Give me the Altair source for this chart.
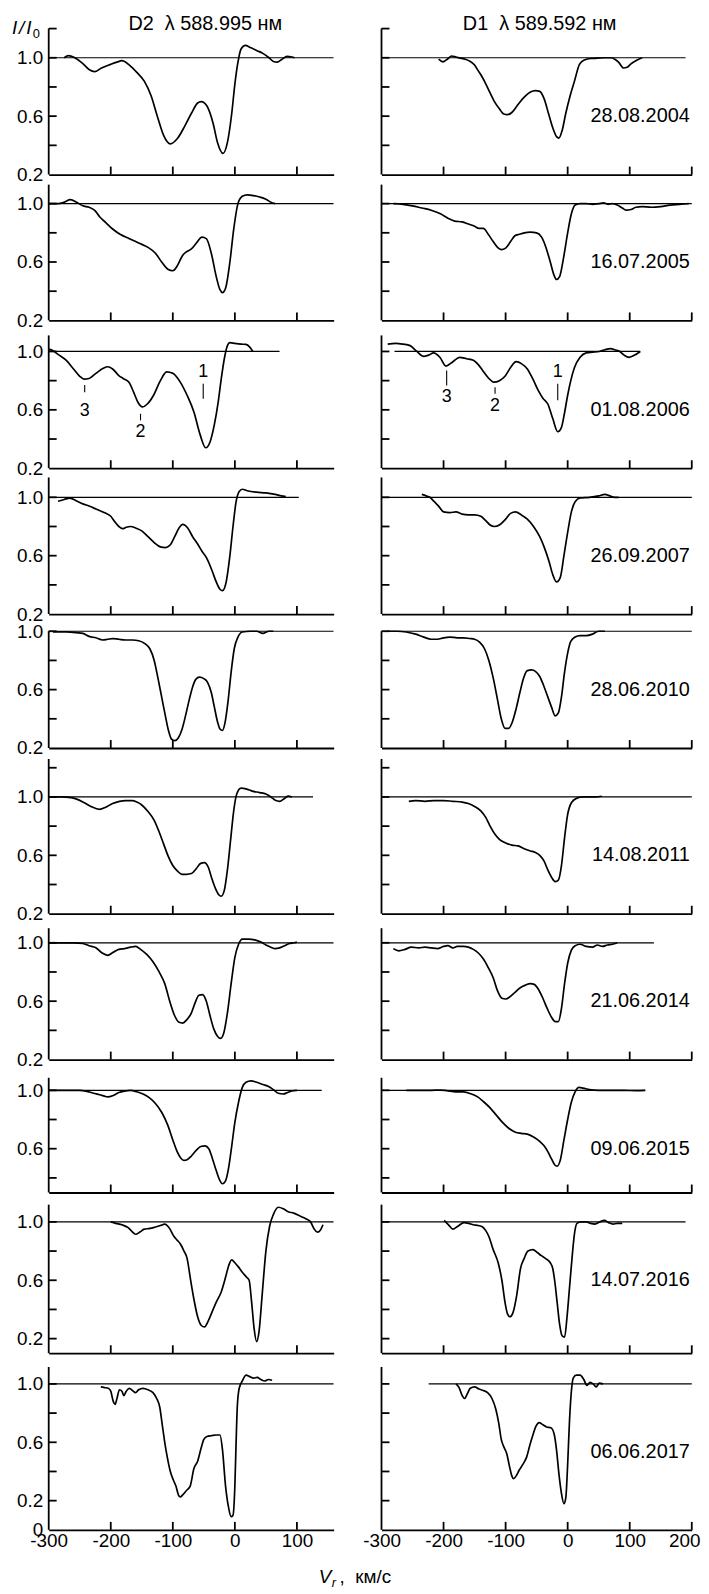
import altair as alt
import pandas as pd

FONT = "Liberation Sans"
DATES = ["28.08.2004", "16.07.2005", "01.08.2006", "26.09.2007", "28.06.2010",
         "14.08.2011", "21.06.2014", "09.06.2015", "14.07.2016", "06.06.2017"]

# ---------------- D2 profiles (left column) ----------------
D2_2004_V = [-275, -268, -258, -245, -235, -226, -215, -200, -190, -182, -170, -158, -146, -135, -125, -115, -104, -92, -81, -70, -60, -54, -45, -35, -28, -19, -12, -5, 0, 5, 10, 17, 25, 35, 45, 55, 62, 68, 76, 84, 92, 96]
D2_2004_I = [1.0, 1.015, 1.0, 0.96, 0.92, 0.905, 0.93, 0.955, 0.97, 0.98, 0.95, 0.9, 0.84, 0.74, 0.6, 0.47, 0.41, 0.45, 0.53, 0.62, 0.69, 0.70, 0.67, 0.55, 0.42, 0.345, 0.42, 0.62, 0.82, 0.97, 1.06, 1.085, 1.07, 1.05, 1.03, 1.0, 0.975, 0.97, 0.99, 1.01, 1.005, 1.0]

D2_2005_V = [-300, -285, -275, -265, -255, -245, -235, -225, -218, -208, -197, -185, -170, -155, -140, -128, -118, -108, -100, -92, -85, -78, -70, -62, -53, -46, -38, -30, -24, -20, -15, -8, -2, 5, 12, 20, 30, 40, 50, 58, 65]
D2_2005_I = [1.0, 1.0, 1.01, 1.027, 1.01, 0.985, 0.975, 0.95, 0.91, 0.87, 0.826, 0.79, 0.76, 0.73, 0.70, 0.66, 0.6, 0.55, 0.54, 0.58, 0.64, 0.67, 0.69, 0.73, 0.77, 0.76, 0.66, 0.5, 0.41, 0.39, 0.42, 0.6, 0.82, 1.0, 1.05, 1.06, 1.055, 1.045, 1.03, 1.01, 1.0]

D2_2006_V = [-300, -293, -285, -272, -260, -250, -243, -235, -224, -212, -205, -197, -187, -180, -171, -163, -156, -149, -141, -131, -120, -110, -100, -88, -77, -66, -56, -47, -40, -33, -27, -22, -17, -12, -8, 0, 10, 18, 24, 29]
D2_2006_I = [1.016, 1.005, 0.98, 0.94, 0.88, 0.83, 0.81, 0.815, 0.85, 0.885, 0.895, 0.88, 0.835, 0.815, 0.79, 0.72, 0.65, 0.62, 0.64, 0.70, 0.80, 0.86, 0.85, 0.79, 0.70, 0.585, 0.43, 0.34, 0.38, 0.5, 0.65, 0.81, 0.95, 1.04, 1.06, 1.055, 1.05, 1.048, 1.03, 1.0]

D2_2007_V = [-285, -275, -266, -255, -245, -235, -224, -208, -200, -194, -187, -181, -175, -168, -160, -150, -140, -130, -120, -112, -105, -97, -90, -84, -76, -68, -60, -53, -45, -37, -30, -24, -20, -14, -8, -3, 2, 7, 12, 20, 35, 50, 65, 75, 82]
D2_2007_I = [0.973, 0.985, 0.995, 0.975, 0.955, 0.94, 0.92, 0.89, 0.87, 0.835, 0.80, 0.785, 0.795, 0.80, 0.79, 0.77, 0.73, 0.69, 0.66, 0.655, 0.67, 0.73, 0.79, 0.815, 0.79, 0.73, 0.68, 0.63, 0.58, 0.5, 0.42, 0.37, 0.36, 0.42, 0.6, 0.8, 0.97, 1.04, 1.055, 1.045, 1.035, 1.03, 1.02, 1.01, 1.005]

D2_2010_V = [-293, -272, -255, -245, -235, -224, -213, -205, -197, -187, -176, -165, -155, -145, -137, -130, -124, -118, -112, -107, -102, -97, -91, -85, -79, -73, -68, -63, -57, -50, -44, -38, -33, -28, -24, -20, -16, -11, -6, -1, 5, 12, 25, 35, 45, 55, 62]
D2_2010_I = [0.995, 0.995, 0.99, 0.985, 0.965, 0.955, 0.94, 0.945, 0.95, 0.945, 0.94, 0.94, 0.935, 0.915, 0.88, 0.8, 0.68, 0.55, 0.42, 0.32, 0.26, 0.25, 0.27, 0.33, 0.43, 0.54, 0.62, 0.67, 0.685, 0.675, 0.65, 0.58, 0.48, 0.38, 0.33, 0.32, 0.37, 0.52, 0.72, 0.88, 0.96, 0.995, 1.0, 1.0, 0.985, 1.0, 1.0]

D2_2011_V = [-300, -280, -264, -255, -245, -232, -218, -208, -197, -186, -176, -165, -158, -150, -140, -130, -122, -115, -108, -100, -92, -85, -78, -70, -62, -55, -49, -43, -37, -31, -26, -22, -17, -12, -7, -2, 3, 10, 18, 28, 40, 50, 58, 66, 72, 80, 86, 92]
D2_2011_I = [1.0, 1.0, 0.995, 0.985, 0.966, 0.935, 0.915, 0.93, 0.955, 0.97, 0.975, 0.975, 0.965, 0.945, 0.9, 0.84, 0.76, 0.68, 0.6, 0.53, 0.49, 0.47, 0.47, 0.475, 0.51, 0.545, 0.55, 0.52, 0.44, 0.37, 0.33, 0.32, 0.36, 0.5, 0.7, 0.9, 1.02, 1.06, 1.055, 1.04, 1.03, 1.02, 1.0, 0.975, 0.97, 0.99, 1.005, 1.0]

D2_2014_V = [-300, -260, -245, -235, -224, -214, -205, -196, -187, -178, -168, -160, -152, -142, -132, -122, -113, -105, -97, -90, -84, -78, -70, -64, -58, -52, -46, -40, -34, -28, -23, -18, -12, -6, 0, 6, 12, 22, 32, 42, 50, 58, 65, 72, 80, 88, 95, 100]
D2_2014_I = [1.0, 1.0, 0.995, 0.98, 0.966, 0.93, 0.914, 0.935, 0.955, 0.96, 0.97, 0.975, 0.955, 0.92, 0.87, 0.8, 0.72, 0.6, 0.5, 0.455, 0.45, 0.47, 0.52, 0.59, 0.64, 0.645, 0.6, 0.5, 0.41, 0.36, 0.345, 0.38, 0.52, 0.72, 0.9, 0.99, 1.025, 1.025, 1.02, 1.005, 0.985, 0.97, 0.96, 0.965, 0.98, 0.995, 1.0, 1.005]

D2_2015_V = [-300, -250, -240, -228, -218, -210, -205, -196, -187, -178, -168, -158, -148, -138, -128, -118, -108, -100, -93, -87, -82, -77, -70, -62, -55, -48, -42, -36, -30, -25, -20, -15, -10, -5, 0, 6, 12, 18, 26, 35, 45, 55, 62, 70, 78, 85, 92, 100]
D2_2015_I = [1.0, 1.0, 0.995, 0.98, 0.97, 0.96, 0.955, 0.965, 0.985, 0.995, 1.0, 0.99, 0.975, 0.95, 0.91, 0.85, 0.76, 0.66, 0.58, 0.535, 0.52, 0.525, 0.55, 0.59, 0.615, 0.62, 0.6, 0.53, 0.45, 0.39, 0.36, 0.38, 0.47, 0.62, 0.78, 0.92, 1.02, 1.055, 1.065, 1.055, 1.04, 1.025, 1.005, 0.98, 0.975, 0.985, 0.995, 1.0]

D2_2016_V = [-200, -192, -182, -172, -166, -160, -153, -146, -137, -128, -120, -113, -106, -98, -93, -88, -82, -77, -72, -66, -60, -54, -49, -43, -37, -30, -22, -15, -10, -5, 0, 6, 12, 18, 23, 27, 31, 35, 39, 44, 50, 56, 62, 70, 78, 86, 95, 105, 115, 122, 128, 133, 138, 142]
D2_2016_I = [1.0, 0.99, 0.98, 0.96, 0.935, 0.915, 0.93, 0.95, 0.955, 0.965, 0.975, 0.985, 0.96, 0.9, 0.875, 0.85, 0.8, 0.75, 0.62, 0.47, 0.35, 0.29, 0.28, 0.32, 0.38, 0.45, 0.52, 0.62, 0.7, 0.74, 0.72, 0.69, 0.655, 0.625, 0.6, 0.45, 0.27, 0.18, 0.25, 0.5, 0.8, 0.97, 1.05, 1.1, 1.09, 1.07, 1.06, 1.04, 1.02, 1.0, 0.95, 0.93, 0.945, 0.98]

D2_2017_V = [-216, -210, -204, -200, -196, -193, -190, -186, -182, -179, -175, -170, -165, -160, -155, -148, -140, -132, -126, -121, -117, -113, -109, -104, -99, -95, -91, -88, -84, -78, -72, -66, -60, -55, -50, -45, -38, -30, -24, -20, -15, -10, -6, -3, 0, 2, 4, 7, 12, 18, 24, 30, 36, 42, 48, 54, 60]
D2_2017_I = [0.98, 0.975, 0.97, 0.95, 0.88, 0.86, 0.9, 0.96, 0.95, 0.92, 0.95, 0.97, 0.955, 0.94, 0.96, 0.97, 0.96, 0.94, 0.9, 0.84, 0.72, 0.6, 0.5, 0.4, 0.34, 0.3, 0.24, 0.225, 0.24, 0.27, 0.3, 0.42, 0.47, 0.55, 0.62, 0.64, 0.645, 0.65, 0.65, 0.55, 0.3, 0.15, 0.09, 0.1, 0.3, 0.6, 0.85, 0.97, 1.02, 1.06, 1.05, 1.04, 1.045, 1.03, 1.02, 1.03, 1.025]

# ---------------- D1 profiles (right column) ----------------
D1_2004_V = [-208, -201, -194, -187, -180, -173, -165, -157, -150, -144, -138, -133, -125, -118, -110, -103, -97, -90, -80, -70, -60, -52, -45, -38, -31, -24, -18, -14, -9, -3, 4, 11, 19, 27, 37, 48, 60, 69, 76, 82, 90, 96, 101, 112, 120]
D1_2004_I = [0.99, 0.972, 0.99, 1.012, 1.005, 0.998, 0.99, 0.975, 0.95, 0.91, 0.87, 0.83, 0.76, 0.7, 0.65, 0.615, 0.61, 0.625, 0.68, 0.73, 0.765, 0.775, 0.77, 0.72, 0.62, 0.52, 0.46, 0.45, 0.5, 0.62, 0.74, 0.84, 0.955, 0.985, 0.995, 0.997, 1.0, 1.0, 0.99, 0.97, 0.93, 0.935, 0.955, 0.985, 1.0]

D1_2005_V = [-281, -265, -250, -235, -220, -205, -193, -182, -170, -160, -150, -143, -136, -128, -120, -113, -107, -100, -92, -85, -78, -70, -60, -50, -42, -35, -28, -22, -18, -13, -7, 0, 6, 12, 20, 30, 40, 50, 58, 65, 72, 80, 88, 95, 102, 110, 120, 135, 150, 165, 180, 195]
D1_2005_I = [1.0, 0.995, 0.985, 0.97, 0.955, 0.93, 0.9, 0.88, 0.875, 0.86, 0.845, 0.83, 0.83, 0.79, 0.74, 0.7, 0.685, 0.695, 0.74, 0.78, 0.79, 0.8, 0.805, 0.8, 0.77, 0.7, 0.6, 0.51, 0.48, 0.5, 0.62, 0.8, 0.93, 0.99, 1.0, 1.0, 0.995, 1.0, 1.005, 0.995, 1.0, 0.99, 0.97, 0.955, 0.96, 0.975, 0.98, 0.975, 0.98, 0.99, 0.995, 1.0]

D1_2006_V = [-290, -277, -265, -254, -243, -232, -224, -216, -206, -196, -185, -174, -163, -152, -144, -137, -128, -119, -110, -101, -92, -83, -74, -65, -56, -47, -40, -32, -24, -16, -10, -5, 0, 5, 11, 20, 30, 40, 51, 60, 69, 77, 84, 91, 99, 108, 117]
D1_2006_I = [1.05, 1.056, 1.05, 1.04, 1.0, 0.966, 0.975, 0.99, 0.96, 0.9, 0.93, 0.96, 0.95, 0.94, 0.91, 0.87, 0.82, 0.79, 0.8, 0.83, 0.89, 0.93, 0.915, 0.88, 0.81, 0.73, 0.68, 0.64, 0.54, 0.45, 0.48, 0.58, 0.70, 0.8, 0.89, 0.96, 0.99, 0.995, 1.0, 1.012, 1.02, 1.01, 1.0, 0.975, 0.96, 0.975, 1.0]

D1_2007_V = [-235, -228, -222, -215, -208, -200, -190, -180, -170, -160, -150, -140, -132, -125, -118, -110, -100, -92, -84, -75, -65, -55, -45, -38, -30, -24, -18, -12, -6, 0, 6, 12, 20, 35, 50, 60, 68, 76, 82]
D1_2007_I = [1.02, 1.01, 1.0, 0.97, 0.94, 0.9, 0.895, 0.9, 0.885, 0.88, 0.88, 0.87, 0.84, 0.81, 0.8, 0.81, 0.85, 0.89, 0.9, 0.88, 0.85, 0.8, 0.73, 0.66, 0.56, 0.47, 0.42, 0.45, 0.6, 0.76, 0.9, 0.97, 0.995, 1.0, 1.01, 1.02, 1.01, 1.0, 1.0]

D1_2010_V = [-290, -275, -260, -245, -232, -220, -210, -200, -190, -178, -168, -158, -150, -142, -134, -127, -120, -113, -107, -101, -95, -89, -83, -77, -71, -65, -58, -52, -45, -38, -32, -26, -20, -15, -10, -5, 0, 5, 12, 20, 30, 40, 50, 60]
D1_2010_I = [1.0, 1.0, 0.995, 0.98, 0.96, 0.945, 0.945, 0.955, 0.96, 0.955, 0.955, 0.95, 0.945, 0.925, 0.88, 0.8, 0.68, 0.53, 0.4, 0.335, 0.335, 0.38, 0.47, 0.58, 0.68, 0.73, 0.735, 0.725, 0.69, 0.62, 0.55, 0.48, 0.42, 0.44, 0.55, 0.72, 0.85, 0.93, 0.96, 0.97, 0.97, 0.98, 1.0, 1.0]

D1_2011_V = [-256, -245, -230, -215, -200, -185, -170, -160, -150, -140, -132, -125, -118, -110, -100, -90, -80, -70, -60, -52, -45, -38, -32, -26, -20, -15, -10, -5, 0, 6, 14, 25, 35, 45, 55]
D1_2011_I = [0.97, 0.975, 0.97, 0.975, 0.975, 0.97, 0.965, 0.955, 0.935, 0.905, 0.86, 0.8, 0.75, 0.71, 0.685, 0.67, 0.665, 0.645, 0.63, 0.62, 0.6, 0.56, 0.5, 0.45, 0.42, 0.43, 0.53, 0.72, 0.88, 0.96, 0.99, 1.0, 1.0, 1.0, 1.005]

D1_2014_V = [-281, -272, -262, -252, -240, -230, -220, -210, -200, -193, -185, -178, -168, -160, -152, -144, -136, -128, -120, -113, -106, -100, -93, -85, -77, -68, -60, -54, -47, -40, -33, -26, -20, -15, -10, -5, 0, 6, 12, 20, 30, 40, 48, 56, 64, 72, 80]
D1_2014_I = [0.96, 0.945, 0.955, 0.97, 0.965, 0.97, 0.965, 0.96, 0.975, 0.98, 0.965, 0.975, 0.975, 0.97, 0.955, 0.93, 0.89, 0.83, 0.76, 0.67, 0.62, 0.615, 0.63, 0.66, 0.69, 0.71, 0.72, 0.715, 0.68, 0.62, 0.55, 0.49, 0.46, 0.46, 0.55, 0.72, 0.86, 0.95, 0.98, 0.99, 0.975, 0.97, 0.985, 0.975, 0.985, 0.99, 1.0]

D1_2015_V = [-260, -240, -220, -205, -195, -180, -168, -155, -145, -135, -125, -115, -105, -95, -85, -75, -65, -55, -45, -38, -32, -26, -21, -17, -12, -6, 0, 6, 12, 18, 25, 35, 50, 70, 90, 110, 125]
D1_2015_I = [1.0, 1.0, 1.0, 1.002, 0.998, 0.99, 0.99, 0.975, 0.955, 0.92, 0.88, 0.83, 0.78, 0.74, 0.715, 0.705, 0.7, 0.68, 0.65, 0.62, 0.58, 0.53, 0.49, 0.48, 0.52, 0.66, 0.8, 0.92, 0.99, 1.02, 1.015, 1.005, 1.0, 1.0, 1.0, 0.998, 1.0]

D1_2016_V = [-199, -192, -185, -177, -167, -160, -152, -144, -137, -132, -127, -120, -112, -106, -101, -97, -93, -88, -82, -76, -70, -64, -56, -49, -43, -36, -28, -24, -21, -17, -13, -9, -5, -1, 3, 7, 11, 15, 22, 30, 37, 44, 52, 59, 66, 73, 80, 88]
D1_2016_I = [1.01, 0.98, 0.95, 0.97, 0.995, 0.99, 0.98, 0.975, 0.965, 0.94, 0.9, 0.81, 0.72, 0.6, 0.45, 0.37, 0.35, 0.38, 0.5, 0.68, 0.75, 0.8, 0.81, 0.79, 0.77, 0.75, 0.72, 0.68, 0.6, 0.45, 0.3, 0.22, 0.21, 0.35, 0.55, 0.75, 0.92, 0.99, 1.0, 1.0, 0.99, 0.985, 1.0, 1.01, 0.995, 0.985, 0.99, 0.99]

D1_2017_V = [-180, -175, -170, -166, -162, -157, -150, -143, -136, -129, -122, -116, -111, -107, -103, -98, -94, -90, -87, -83, -78, -72, -66, -61, -56, -51, -46, -40, -34, -27, -22, -18, -14, -10, -6, -3, 0, 3, 6, 9, 14, 20, 26, 31, 36, 41, 46, 51, 57]
D1_2017_I = [1.0, 0.975, 0.92, 0.9, 0.93, 0.97, 0.98, 0.965, 0.955, 0.94, 0.9, 0.83, 0.73, 0.62, 0.57, 0.52, 0.44, 0.37, 0.35, 0.37, 0.41, 0.45, 0.5, 0.58, 0.65, 0.71, 0.735, 0.72, 0.705, 0.7, 0.66, 0.55, 0.38, 0.25, 0.18, 0.22, 0.45, 0.75, 0.95, 1.04, 1.06, 1.06, 1.03, 0.99, 1.01, 1.0, 0.98, 1.005, 1.0]

D2_V = [D2_2004_V, D2_2005_V, D2_2006_V, D2_2007_V, D2_2010_V, D2_2011_V, D2_2014_V, D2_2015_V, D2_2016_V, D2_2017_V]
D2_I = [D2_2004_I, D2_2005_I, D2_2006_I, D2_2007_I, D2_2010_I, D2_2011_I, D2_2014_I, D2_2015_I, D2_2016_I, D2_2017_I]
D1_V = [D1_2004_V, D1_2005_V, D1_2006_V, D1_2007_V, D1_2010_V, D1_2011_V, D1_2014_V, D1_2015_V, D1_2016_V, D1_2017_V]
D1_I = [D1_2004_I, D1_2005_I, D1_2006_I, D1_2007_I, D1_2010_I, D1_2011_I, D1_2014_I, D1_2015_I, D1_2016_I, D1_2017_I]

# continuum (I/I0 = 1) line extents
CONT_D2 = [[-300, 159], [-300, 159], [-300, 72], [-300, 103], [-300, 159],
           [-300, 126], [-300, 159], [-300, 140], [-300, 159], [-300, 159]]
CONT_D1 = [[-300, 190], [-300, 200], [-279, 117], [-300, 200], [-300, 200],
           [-300, 200], [-300, 139], [-300, 125], [-300, 190], [-224, 200]]

# axes
Y_MIN = [0.2, 0.2, 0.2, 0.2, 0.2, 0.2, 0.2, 0.3, 0.1, 0.0]
Y_AXIS_TOP = [1.2, 1.13, 1.11, 1.136, 1.0, 1.26, 1.10, 1.086, 1.118, 1.116]
Y_TICKS = [[1.2, 1.0, 0.8, 0.6, 0.4], [1.0, 0.8, 0.6, 0.4], [1.0, 0.8, 0.6, 0.4],
           [1.0, 0.8, 0.6, 0.4], [1.0, 0.8, 0.6, 0.4], [1.2, 1.0, 0.8, 0.6, 0.4],
           [1.0, 0.8, 0.6, 0.4], [1.0, 0.8, 0.6, 0.4], [1.0, 0.8, 0.6, 0.4, 0.2],
           [1.0, 0.8, 0.6, 0.4, 0.2]]
Y_LABELS = [[1.0, 0.6, 0.2]] * 7 + [[1.0, 0.6], [1.0, 0.6, 0.2], [1.0, 0.6, 0.2, 0.0]]
DATE_Y = [0.6, 0.6, 0.6, 0.6, 0.6, 0.6, 0.6, 0.6, 0.6, 0.53]
X_LABELS_L = [-300, -200, -100, 0, 100]
X_LABELS_R = [-300, -200, -100, 0, 100]
X_LAST_R = 200          # drawn as a text mark, pulled slightly inside the page
X_TICKS_L = [-200, -100, 0, 100]
X_TICKS_R = [-200, -100, 0, 100, 200]

# component markers on 01.08.2006
MARK_D2_V = [-242, -152, -51]
MARK_D2_TXT_Y = [0.59, 0.449, 0.862]
MARK_D2_Y0 = [0.77, 0.573, 0.778]
MARK_D2_Y1 = [0.72, 0.528, 0.676]
MARK_D1_V = [-195, -117, -16]
MARK_D1_TXT_Y = [0.687, 0.628, 0.857]
MARK_D1_Y0 = [0.869, 0.755, 0.778]
MARK_D1_Y1 = [0.766, 0.71, 0.665]
MARK_TXT = ["3", "2", "1"]

# layout (integer panel heights, 147 px per unit of I/I0)
PX_PER_UNIT = 147.0
ROW_H = [147, 138, 140, 138, 126, 158, 138, 125, 153, 169]
ROW_GAP = 8.9
W_L, W_R = 287.0, 312.5
X_MAX_L = -300 + W_L / 0.625
X_MAX_R = 200
AX_W = 1.8
FS = 19
FS_BIG = 20
NB = "\u00a0"


def txt(s, x, y, size=FS, italic=False, align="left"):
    return alt.Chart(pd.DataFrame({"t": [s]})).mark_text(
        align=align, baseline="alphabetic", font=FONT, fontSize=size,
        fontStyle="italic" if italic else "normal", color="black").encode(
        text="t:N", x=alt.value(x), y=alt.value(y))


def make_panel(row, left):
    v = (D2_V if left else D1_V)[row]
    i = (D2_I if left else D1_I)[row]
    width = W_L if left else W_R
    xmax = X_MAX_L if left else X_MAX_R
    h = ROW_H[row]
    ymin = Y_MIN[row]
    ytop = ymin + h / PX_PER_UNIT
    bottom = row == len(DATES) - 1

    xs = alt.Scale(domain=[-300, xmax], nice=False, zero=False)
    ys = alt.Scale(domain=[ymin, ytop], nice=False, zero=False)
    xaxis = alt.Axis(values=X_LABELS_L if left else X_LABELS_R, labels=bottom,
                     ticks=False, tickSize=0, grid=False, domain=True,
                     domainColor="black", domainWidth=AX_W, labelFont=FONT,
                     labelFontSize=FS, labelColor="black", labelPadding=2,
                     labelFlush=False, labelOverlap=False, title=None,
                     labelExpr="datum.value < 0 ? '-' + format(-datum.value, 'd') : format(datum.value, 'd')")
    yaxis = alt.Axis(values=Y_LABELS[row], labels=left, ticks=False, tickSize=0,
                     grid=False, domain=False, labelFont=FONT, labelFontSize=FS,
                     labelColor="black", labelPadding=6, labelFlush=False,
                     labelOverlap=False, title=None,
                     labelExpr="datum.value == 0 ? '0' : format(datum.value, '.1f')")

    curve = alt.Chart(pd.DataFrame({"v": v, "i": i})).mark_line(
        color="black", strokeWidth=1.7, interpolate="monotone").encode(
        x=alt.X("v:Q", scale=xs, axis=xaxis, title=None),
        y=alt.Y("i:Q", scale=ys, axis=yaxis, title=None))

    c0, c1 = (CONT_D2 if left else CONT_D1)[row]
    cont = alt.Chart(pd.DataFrame({"a": [c0], "b": [c1], "c": [1.0]})).mark_rule(
        color="black", strokeWidth=1.2).encode(
        x=alt.X("a:Q", title=None), x2="b", y=alt.Y("c:Q", title=None))

    yline = alt.Chart(pd.DataFrame({"a": [ymin], "b": [Y_AXIS_TOP[row]]})).mark_rule(
        color="black", strokeWidth=AX_W).encode(
        x=alt.value(0), y=alt.Y("a:Q", title=None), y2="b")

    yt = alt.Chart(pd.DataFrame({"t": Y_TICKS[row]})).mark_rule(
        color="black", strokeWidth=AX_W).encode(
        y=alt.Y("t:Q", title=None), x=alt.value(0), x2=alt.value(8))

    xt = alt.Chart(pd.DataFrame({"t": X_TICKS_L if left else X_TICKS_R})).mark_rule(
        color="black", strokeWidth=AX_W).encode(
        x=alt.X("t:Q", title=None), y=alt.value(h), y2=alt.value(h - 8))

    layers = [curve, cont, yline, yt, xt]

    if not left:
        layers.append(alt.Chart(pd.DataFrame({"d": [DATES[row]], "y": [DATE_Y[row]]})).mark_text(
            align="right", baseline="middle", font=FONT, fontSize=FS_BIG, color="black").encode(
            text="d:N", x=alt.value(width - 2), y=alt.Y("y:Q", title=None)))

    if bottom and not left:
        layers.append(alt.Chart(pd.DataFrame({"x": [X_LAST_R], "t": [str(X_LAST_R)]})).mark_text(
            align="center", baseline="top", font=FONT, fontSize=FS, color="black", dx=-7).encode(
            text="t:N", x=alt.X("x:Q", title=None), y=alt.value(h + 2)))

    if row == 0:
        ttl = ("D2" + NB + " \u03bb 588.995 \u043d\u043c") if left else ("D1" + NB + " \u03bb 589.592 \u043d\u043c")
        cx = 157.7 if left else 159.3
        layers.append(txt(ttl, cx, 1, FS_BIG, align="center"))
        if left:
            layers.append(txt("I", -37, 5, FS, italic=True))
            layers.append(txt("/", -30, 5, FS, italic=True))
            layers.append(txt("I", -22.5, 5, FS, italic=True))
            layers.append(txt("0", -16, 9, 13))

    if row == 2:
        mv = MARK_D2_V if left else MARK_D1_V
        mty = MARK_D2_TXT_Y if left else MARK_D1_TXT_Y
        my0 = MARK_D2_Y0 if left else MARK_D1_Y0
        my1 = MARK_D2_Y1 if left else MARK_D1_Y1
        mdf = pd.DataFrame({"v": mv, "ty": mty, "y0": my0, "y1": my1, "t": MARK_TXT})
        layers.append(alt.Chart(mdf).mark_rule(color="black", strokeWidth=1.1).encode(
            x=alt.X("v:Q", title=None), y=alt.Y("y0:Q", title=None), y2="y1"))
        layers.append(alt.Chart(mdf).mark_text(
            align="center", baseline="middle", font=FONT, fontSize=18, color="black").encode(
            x=alt.X("v:Q", title=None), y=alt.Y("ty:Q", title=None), text="t:N"))

    if bottom and left:
        layers.append(txt("V", 272, h + 54, FS, italic=True))
        layers.append(txt("r", 285, h + 58, 13, italic=True))
        layers.append(txt("," + NB + NB + "\u043a\u043c/\u0441", 293, h + 54, FS))

    return alt.layer(*layers).properties(width=width, height=h)


panels = []
for r in range(len(DATES)):
    panels.append(make_panel(r, True))
    panels.append(make_panel(r, False))

chart = alt.concat(*panels, columns=2, spacing={"row": ROW_GAP, "column": 48.2},
                   bounds="flush", align="each").properties(
    padding={"left": 4, "top": 0, "right": 0, "bottom": 0},
    background="white",
).configure_view(stroke=None)

chart.save("out.html", embed_options={"renderer": "svg", "actions": False})
